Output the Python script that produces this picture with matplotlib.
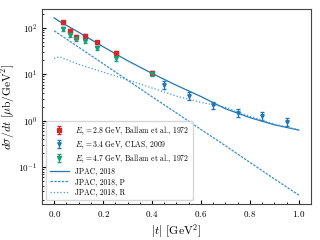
import numpy as np
import matplotlib
matplotlib.use("Agg")
from matplotlib import pyplot as plt

plt.rcParams["font.family"] = "serif"
plt.rcParams["font.serif"] = ["cmr10", "DejaVu Serif"]
plt.rcParams["mathtext.fontset"] = "cm"
plt.rcParams["axes.formatter.use_mathtext"] = True

# data
t_ballam = [0.036, 0.065, 0.09, 0.128, 0.177, 0.252, 0.40]
y_28 = [132, 87, 65, 68, 49, 29, 10.8]
y_47 = [95, 70, 58, 52, 37.5, 22, 10.0]
t_clas = [0.45, 0.55, 0.65, 0.75, 0.85, 0.95]
y_34 = [6.0, 3.45, 2.17, 1.5, 1.28, 0.95]

# model curves
t_mod = [0.0, 0.02, 0.1, 0.2, 0.3, 0.4, 0.5, 0.6, 0.7, 0.8, 0.9, 1.0]
y_tot = [165, 140, 81, 39.5, 19.7, 10.5, 5.8, 3.33, 1.82, 1.17, 0.82, 0.63]
y_P = [87, 74, 38.5, 17.0, 7.5, 3.3, 1.47, 0.65, 0.29, 0.127, 0.056, 0.025]
y_R = [22, 24, 16.5, 11.2, 7.6, 5.1, 3.4, 2.5, 1.95, 1.25, 0.85, 0.64]

fig = plt.figure(figsize=(3.2, 2.4), dpi=100)
ax = fig.add_axes([0.131, 0.15, 0.841, 0.8125])

h1 = ax.errorbar(t_ballam, y_28, yerr=0.09*np.array(y_28), fmt='s', color='#d62728',
                 ms=3, capsize=1.5, elinewidth=0.8, label=r'$E_\gamma = 2.8$ GeV, Ballam et al., 1972')
h2 = ax.errorbar(t_clas, y_34, yerr=0.18*np.array(y_34), fmt='v', color='#1f77b4',
                 ms=2.5, capsize=1.5, elinewidth=0.8, label=r'$E_\gamma = 3.4$ GeV, CLAS, 2009')
h3 = ax.errorbar(t_ballam, y_47, yerr=0.1*np.array(y_47), fmt='v', color='#17a07a',
                 ms=3, capsize=1.5, elinewidth=0.8, label=r'$E_\gamma = 4.7$ GeV, Ballam et al., 1972')
l1, = ax.plot(t_mod, y_tot, '-', color='#1f77b4', lw=0.9, label='JPAC, 2018')
l2, = ax.plot(t_mod, y_P, '--', color='#3a8fd0', lw=0.9, dashes=(2, 1), label='JPAC, 2018, P')
l3, = ax.plot(t_mod, y_R, ':', color='#4a9ad6', lw=0.9, label='JPAC, 2018, R')

ax.set_yscale('log')
ax.set_xlabel(r'$|t|$ $[\mathrm{GeV}^2]$', fontsize=8.5, labelpad=2.5)
ax.set_ylabel(r'$d\sigma/dt$ $[\mu\mathrm{b}/\mathrm{GeV}^2]$', fontsize=8.3, labelpad=1)
ax.set_xticks([0.0, 0.2, 0.4, 0.6, 0.8, 1.0])
ax.minorticks_on()
ax.tick_params(which='both', direction='in', labelsize=6.5)
ax.tick_params(which='major', length=3)
ax.tick_params(which='minor', length=1.5)
for s in ax.spines.values():
    s.set_color('#444444')
ax.legend(handles=[h1, h2, h3, l1, l2, l3], loc='lower left', fontsize=5.5,
          frameon=True, handlelength=2.5, labelspacing=0.25, borderpad=0.5)
fig.savefig('out.png', dpi=100)
